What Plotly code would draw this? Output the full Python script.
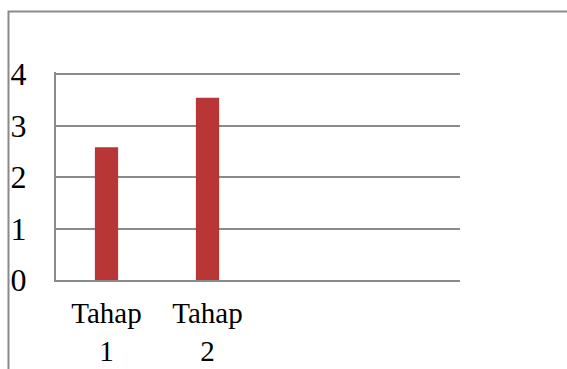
import plotly.graph_objects as go

# Chart data
categories = ["Tahap<br>1", "Tahap<br>2", " ", "  "]
values = [2.58, 3.54, None, None]
y_ticks = [0, 1, 2, 3, 4]

GRID = "#8a8a8a"
FONT = "'Times New Roman', 'Liberation Serif', 'DejaVu Serif', serif"

fig = go.Figure(
    go.Bar(
        x=categories,
        y=values,
        width=0.23,
        marker=dict(color="#b83636", line=dict(width=0)),
        hoverinfo="skip",
    )
)

fig.update_layout(
    width=567,
    height=369,
    margin=dict(l=56, r=107, t=72, b=89),
    paper_bgcolor="white",
    plot_bgcolor="white",
    showlegend=False,
    font=dict(family=FONT, size=29, color="black"),
    shapes=[
        # outer chart frame (open to the right and bottom of the view)
        dict(
            type="path",
            xref="paper",
            yref="paper",
            path="M -0.1176 -0.46 L -0.1176 1.2909 L 1.28 1.2909",
            line=dict(color=GRID, width=2),
        )
    ],
)

fig.update_xaxes(
    type="category",
    range=[-0.5, 3.5],
    automargin=False,
    showgrid=False,
    showline=True,
    linecolor=GRID,
    linewidth=2,
    ticks="",
    tickfont=dict(family=FONT, size=29, color="black"),
    ticklabelstandoff=6,
)

fig.update_yaxes(
    range=[0, 4.04],
    tickvals=y_ticks,
    automargin=False,
    showgrid=True,
    gridcolor=GRID,
    gridwidth=2,
    showline=True,
    linecolor=GRID,
    linewidth=2,
    zeroline=False,
    ticks="",
    tickfont=dict(family=FONT, size=32, color="black"),
    ticklabelstandoff=21,
)

fig.write_html("out.html")
